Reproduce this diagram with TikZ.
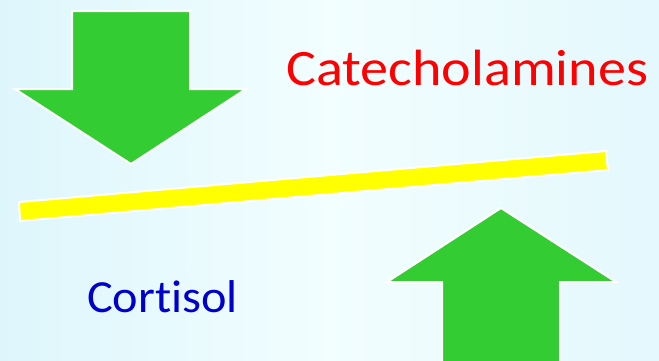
\documentclass[tikz,border=0pt]{standalone}
\usepackage{fontspec}
\setmainfont{Carlito}[Ligatures=NoCommon]
\definecolor{bgedge}{RGB}{221,246,252}
\definecolor{bgmid}{RGB}{242,254,255}
\definecolor{arrowgreen}{RGB}{51,204,51}
\definecolor{baryellow}{RGB}{255,255,0}
\definecolor{catred}{RGB}{255,0,0}
\definecolor{cortblue}{RGB}{0,0,204}
\tikzset{
  greenarrow/.style={fill=arrowgreen, draw=white, line width=2pt, line join=miter},
  yellowbar/.style={fill=baryellow, draw=white, line width=2pt, line join=miter},
  label/.style={inner sep=0pt, anchor=base west, transform shape}
}
\begin{document}
\begin{tikzpicture}[x=1pt,y=-1pt]
\useasboundingbox (0,0) rectangle (659,360);
\shade[left color=bgedge, right color=bgedge!80!white, middle color=bgmid] (0,0) rectangle (659,360);
% down arrow
\draw[greenarrow] (72,11) -- (190,11) -- (190,89) -- (246,89) -- (131,164) -- (15,89) -- (72,89) -- cycle;
% up arrow
\draw[greenarrow] (501,208) -- (616,282) -- (560,282) -- (560,362) -- (442,362) -- (442,282) -- (387,282) -- cycle;
% yellow bar
\draw[yellowbar] (19,202) -- (606,151) -- (608,170) -- (20,221) -- cycle;
% texts
\begin{scope}[shift={(286,85)}, xscale=1.1]
\node[label, text=catred, font=\fontsize{51}{55}\selectfont] (cat) at (0,0) {Catecholamines};
\end{scope}
\begin{scope}[shift={(87,312)}, xscale=1.05]
\node[label, text=cortblue, font=\fontsize{46}{50}\selectfont] (cort) at (0,0) {Cortisol};
\end{scope}
\end{tikzpicture}
\end{document}
